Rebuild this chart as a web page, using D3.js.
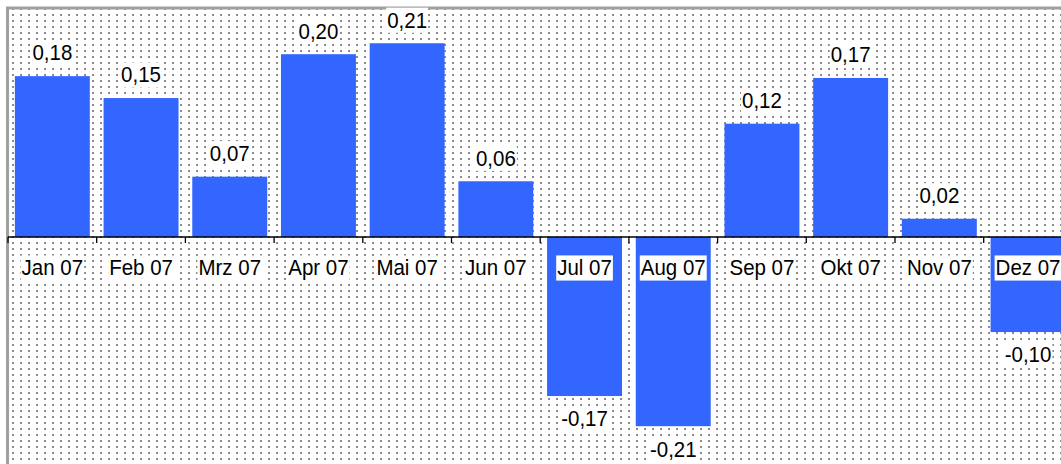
<!DOCTYPE html>
<html>
<head>
<meta charset="utf-8">
<script src="https://cdn.jsdelivr.net/npm/d3@7"></script>
<style>
  body { margin: 0; background: #fff; }
  text { font-family: "Liberation Sans", Arial, sans-serif; }
</style>
</head>
<body>
<div id="chart"></div>
<script>
// monthly change, Jan 07 - Dez 07
const months = ["Jan 07", "Feb 07", "Mrz 07", "Apr 07", "Mai 07", "Jun 07",
                "Jul 07", "Aug 07", "Sep 07", "Okt 07", "Nov 07", "Dez 07"];
const values = [0.176, 0.152, 0.066, 0.200, 0.212, 0.061,
                -0.174, -0.207, 0.124, 0.174, 0.020, -0.104];
const yDomain = [-0.25, 0.25];

let width = 1061,
    height = 464,
    plot = ({ left: 8, top: 8.5, step: 88.7, bottom: 465.5 });

const svg = d3.select("#chart")
  .append("svg")
  .attr("width", width)
  .attr("height", height);

// dotted background
const defs = svg.append("defs");
const pat = defs.append("pattern")
  .attr("id", "dots")
  .attr("patternUnits", "userSpaceOnUse")
  .attr("x", 0).attr("y", 0)
  .attr("width", 8).attr("height", 6);
pat.append("rect")
  .attr("x", 4).attr("y", 2)
  .attr("width", 2).attr("height", 2)
  .attr("fill", "#8c8c8c");

let x = d3.scaleBand()
  .domain(months)
  .range([plot.left, plot.left + months.length * plot.step])
  .paddingInner(0.155)
  .paddingOuter(0.0775);

let y = d3.scaleLinear()
  .domain(yDomain)
  .range([plot.bottom, plot.top]);

svg.append("rect")
  .attr("x", plot.left).attr("y", plot.top)
  .attr("width", width).attr("height", height)
  .attr("fill", "url(#dots)")
  .attr("shape-rendering", "crispEdges");

svg.append("rect")
  .attr("x", plot.left - 0.5).attr("y", plot.top - 0.5)
  .attr("width", width + 20).attr("height", height + 20)
  .attr("fill", "none")
  .attr("stroke", "#a0a0a0")
  .attr("stroke-width", 3);

const data = months.map((m, i) => ({ month: m, value: values[i] }));

svg.append("g")
  .selectAll("rect")
  .data(data)
  .join("rect")
    .attr("x", d => x(d.month))
    .attr("width", x.bandwidth())
    .attr("y", d => y(Math.max(0, d.value)))
    .attr("height", d => Math.abs(y(d.value) - y(0)))
    .attr("fill", "#3366ff");

// zero line with boundary ticks
const axis = svg.append("g");
axis.append("line")
  .attr("x1", plot.left).attr("x2", width)
  .attr("y1", y(0)).attr("y2", y(0))
  .attr("stroke", "#000")
  .attr("stroke-width", 1.5);
axis.selectAll(".tick")
  .data(d3.range(months.length + 1))
  .join("line")
    .attr("class", "tick")
    .attr("x1", i => plot.left + i * x.step())
    .attr("x2", i => plot.left + i * x.step())
    .attr("y1", y(0)).attr("y2", y(0) + 6)
    .attr("stroke", "#000")
    .attr("stroke-width", 1.3);

// text with white box behind (font looks a bit stretched vertically)
function boxedLabel(parent, tx, ty, str) {
  const g = parent.append("g")
    .attr("transform", `translate(${tx},${ty}) scale(1,1.1)`);
  const box = g.append("rect").attr("fill", "#fff");
  const t = g.append("text")
    .attr("text-anchor", "middle")
    .attr("dominant-baseline", "central")
    .style("font-size", "20.5px")
    .attr("fill", "#000")
    .text(str);
  const b = t.node().getBBox();
  box.attr("x", b.x - 1).attr("y", b.y)
    .attr("width", b.width + 2).attr("height", b.height);
}

const fmt = d => d3.format(".2f")(d).replace(".", ",").replace("−", "-");

const cats = svg.append("g");
data.forEach(d => {
  boxedLabel(cats, x(d.month) + x.bandwidth() / 2, y(0) + 31, d.month);
});

const vals = svg.append("g");
data.forEach(d => {
  const ty = d.value >= 0 ? y(d.value) - 23 : y(d.value) + 23;
  boxedLabel(vals, x(d.month) + x.bandwidth() / 2, ty, fmt(d.value));
});
</script>
</body>
</html>
